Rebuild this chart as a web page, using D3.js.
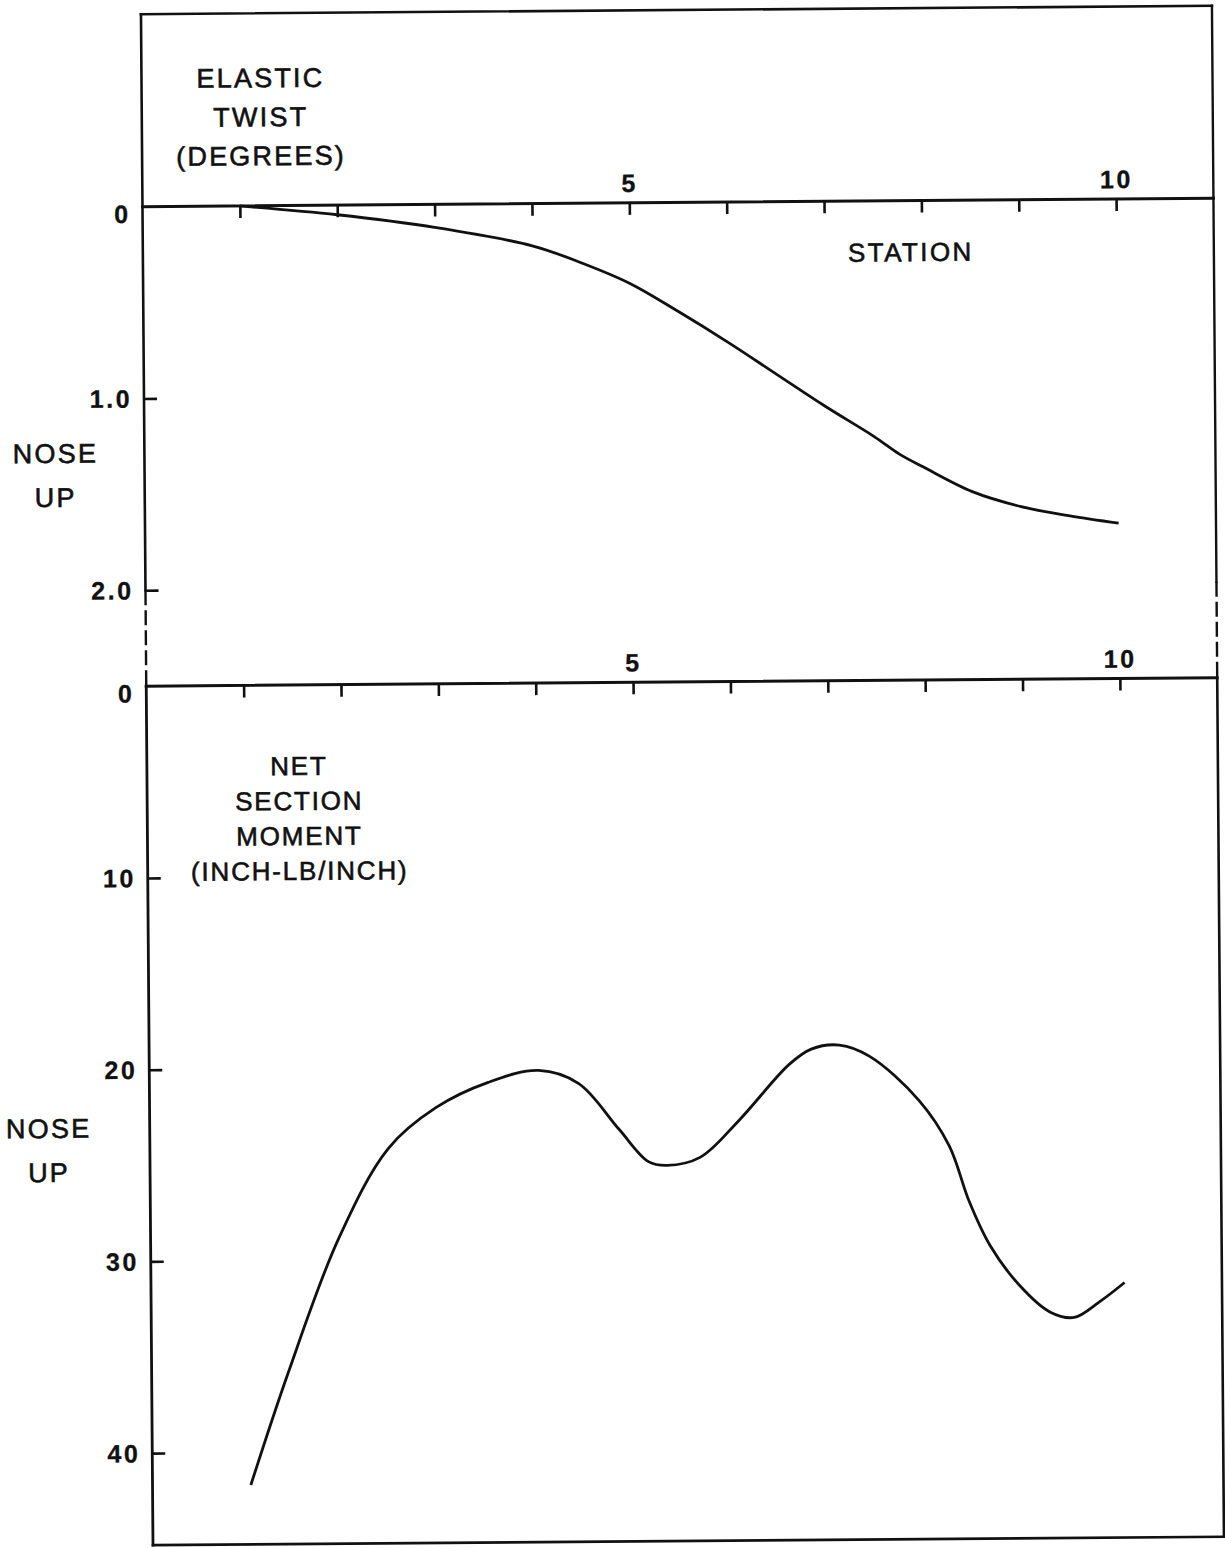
<!DOCTYPE html>
<html>
<head>
<meta charset="utf-8">
<script src="https://cdn.jsdelivr.net/npm/d3@7"></script>
<style>
  html, body { margin: 0; padding: 0; background: #fff; }
  svg { display: block; }
  text { font-family: "Liberation Sans", Arial, Helvetica, sans-serif; fill: #111; }
</style>
</head>
<body>
<script>
// ---- data ----
const stationsTwist = [1, 2, 3, 4, 4.5, 5, 5.5, 6, 6.5, 7, 7.5, 7.75, 8, 8.5, 9, 9.5, 10];
const twistValues   = [0, 0.05, 0.12, 0.22, 0.31, 0.42, 0.57, 0.73, 0.90, 1.07, 1.23, 1.32, 1.39, 1.52, 1.60, 1.65, 1.69];

const stationsMoment = [1.01, 1.4, 1.93, 2.45, 2.94, 3.48, 4.0, 4.41, 4.82, 5.12, 5.31, 5.65, 6.05, 6.57, 6.8, 7.09, 7.4, 7.9, 8.21, 8.41, 8.62, 8.92, 9.23, 9.48, 9.74, 10.0];
const momentValues   = [41.7, 35.9, 28.9, 24.2, 22.1, 20.8, 20.2, 20.9, 23.3, 25.0, 25.2, 24.8, 22.9, 20.0, 19.2, 19.0, 19.6, 21.9, 24.3, 27.2, 29.5, 31.6, 33.0, 33.3, 32.5, 31.5];

const stationTicks = [1, 2, 3, 4, 5, 6, 7, 8, 9, 10];
const stationLabels = [5, 10];
const twistTicks = [0, 1, 2];
const twistTickLabels = ["0", "1.0", "2.0"];
const momentTicks = [0, 10, 20, 30, 40];
const momentTickLabels = ["0", "10", "20", "30", "40"];

const twistTitle = ["ELASTIC", "TWIST", "(DEGREES)"];
const momentTitle = ["NET", "SECTION", "MOMENT", "(INCH-LB/INCH)"];
const sideLabel = ["NOSE", "UP"];
const xTitle = "STATION";

// ---- layout ----
const W = 1225, H = 1548;
const svg = d3.select("body").append("svg").attr("width", W).attr("height", H);
svg.append("rect").attr("width", W).attr("height", H).attr("fill", "#fff");

const g = svg.append("g").attr("transform", "rotate(-0.45,680,780)");

const x = d3.scaleLinear().domain([0, 11]).range([147, 1218]);
const yTop = d3.scaleLinear().domain([0, 2]).range([202.5, 586]);
const yBot = d3.scaleLinear().domain([0, 40]).range([682, 1449]);
const frameTop = 10, frameBottom = 1541;
const ink = "#111";

function seg(x1, y1, x2, y2, w, dash) {
  const l = g.append("line").attr("x1", x1).attr("y1", y1).attr("x2", x2).attr("y2", y2)
    .attr("stroke", ink).attr("stroke-width", w).attr("stroke-linecap", "square");
  if (dash) l.attr("stroke-dasharray", dash).attr("stroke-linecap", "butt");
  return l;
}

// frame
const xl = x(0), xr = x(11);
seg(xl, frameTop, xr, frameTop, 2.6);
seg(xl, frameTop, xl, yTop(2), 2.6);
seg(xr, frameTop, xr, yTop(2), 2.4);
seg(xl, yTop(2), xl, yBot(0), 2.4, "15,5");
seg(xr, yTop(2), xr, yBot(0), 2.4, "15,5");
seg(xl, yBot(0), xl, frameBottom, 2.8);
seg(xr, yBot(0), xr, frameBottom, 2.6);
seg(xl, frameBottom, xr, frameBottom, 2.6);

function styleTick(sel) {
  sel.attr("font-size", 25).attr("font-weight", "bold")
    .attr("letter-spacing", 2.5).attr("fill", ink)
    .attr("stroke", ink).attr("stroke-width", 0.3)
    .attr("font-family", "Liberation Sans, Arial, sans-serif");
}

// x axes (ticks pointing down, labels above)
function xAxis(yPos) {
  const ax = d3.axisTop(x).tickValues(stationTicks).tickSize(-12).tickPadding(11)
    .tickSizeOuter(0)
    .tickFormat(d => stationLabels.includes(d) ? String(d) : "");
  const a = g.append("g").attr("transform", `translate(0,${yPos})`).call(ax);
  a.select(".domain").remove();
  a.selectAll(".tick line").attr("stroke", ink).attr("stroke-width", 2.6);
  styleTick(a.selectAll(".tick text"));
  seg(x(0), yPos, x(11), yPos, 3);
}
xAxis(yTop(0));
xAxis(yBot(0));

// y axes (ticks pointing right, labels left)
function yAxis(scale, vals, labels) {
  const ax = d3.axisLeft(scale).tickValues(vals).tickSize(-13).tickPadding(12).tickSizeOuter(0)
    .tickFormat((d, i) => labels[i]);
  const a = g.append("g").attr("transform", `translate(${x(0)},0)`).call(ax);
  a.select(".domain").remove();
  a.selectAll(".tick line").attr("stroke", ink).attr("stroke-width", 2.6)
    .attr("display", d => d === 0 ? "none" : null);
  styleTick(a.selectAll(".tick text"));
  a.selectAll(".tick text").attr("dy", d => d === 0 ? "0.62em" : "0.34em");
}
yAxis(yTop, twistTicks, twistTickLabels);
yAxis(yBot, momentTicks, momentTickLabels);

// curves
const lineTop = d3.line().x(d => x(d[0])).y(d => yTop(d[1])).curve(d3.curveCatmullRom.alpha(0.5));
const lineBot = d3.line().x(d => x(d[0])).y(d => yBot(d[1])).curve(d3.curveCatmullRom.alpha(0.5));
g.append("path").datum(stationsTwist.map((s, i) => [s, twistValues[i]]))
  .attr("d", lineTop).attr("fill", "none").attr("stroke", ink).attr("stroke-width", 2.8);
g.append("path").datum(stationsMoment.map((s, i) => [s, momentValues[i]]))
  .attr("d", lineBot).attr("fill", "none").attr("stroke", ink).attr("stroke-width", 2.8);

// text labels
function block(lines, cx, y0, dy, size, ls) {
  g.append("g").selectAll("text").data(lines).join("text")
    .attr("x", cx).attr("y", (d, i) => y0 + i * dy)
    .attr("text-anchor", "middle").attr("font-size", size).attr("letter-spacing", ls)
    .attr("stroke", ink).attr("stroke-width", 0.6)
    .text(d => d);
}
block(twistTitle, 266, 84, 39, 27, 2.2);
block([xTitle], 915, 263, 0, 26, 2.4);
block(momentTitle, 299, 772, 35, 26, 1.8);
block(sideLabel, 58, 458, 44, 27, 2.2);
block(sideLabel, 46, 1133, 44, 27, 2.2);
</script>
</body>
</html>
